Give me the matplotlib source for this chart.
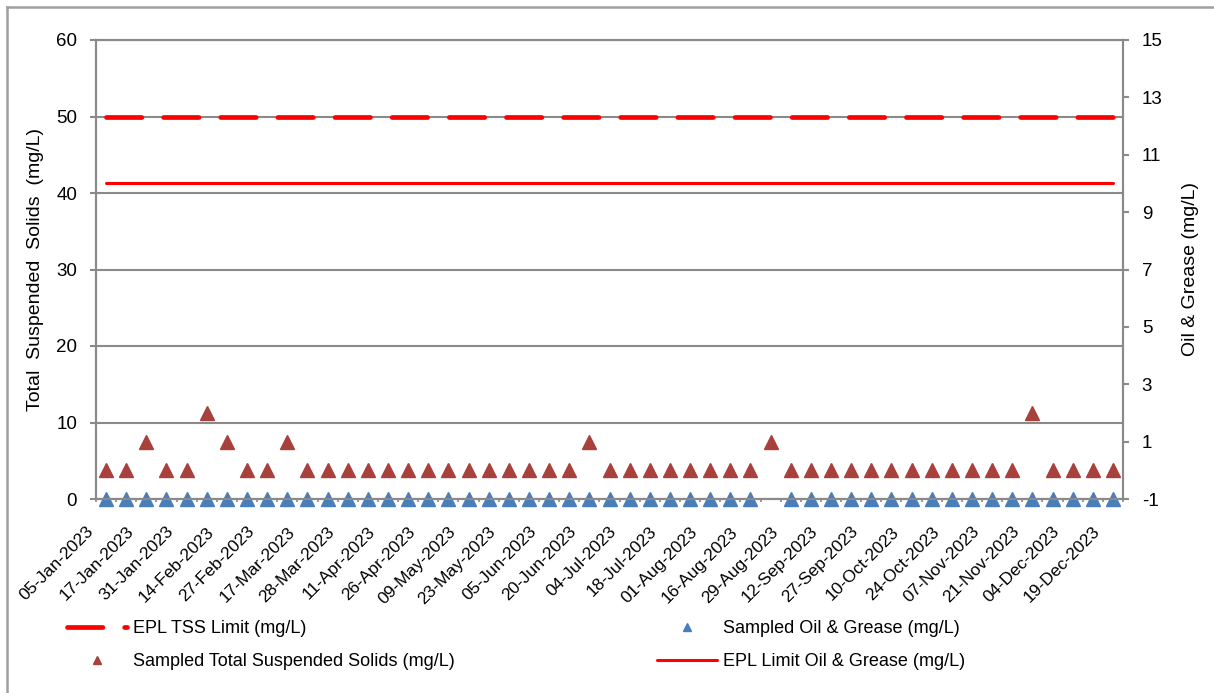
import numpy as np
import matplotlib
matplotlib.use("Agg")
import matplotlib.pyplot as plt
from matplotlib.lines import Line2D
from matplotlib.transforms import ScaledTranslation

plt.rcParams["font.family"] = ["Liberation Sans", "DejaVu Sans"]
plt.rcParams["axes.unicode_minus"] = False

# sampling rounds, labelled every second one on the axis
tick_labels = ["05-Jan-2023", "17-Jan-2023", "31-Jan-2023", "14-Feb-2023", "27-Feb-2023",
               "17-Mar-2023", "28-Mar-2023", "11-Apr-2023", "26-Apr-2023", "09-May-2023",
               "23-May-2023", "05-Jun-2023", "20-Jun-2023", "04-Jul-2023", "18-Jul-2023",
               "01-Aug-2023", "16-Aug-2023", "29-Aug-2023", "12-Sep-2023", "27-Sep-2023",
               "10-Oct-2023", "24-Oct-2023", "07-Nov-2023", "21-Nov-2023", "04-Dec-2023",
               "19-Dec-2023"]

tss_sampled = [0, 0, 1, 0, 0, 2, 1, 0, 0, 1,
               0, 0, 0, 0, 0, 0, 0, 0, 0, 0,
               0, 0, 0, 0, 1, 0, 0, 0, 0, 0,
               0, 0, 0, 1, 0, 0, 0, 0, 0, 0,
               0, 0, 0, 0, 0, 0, 2, 0, 0, 0,
               0]
og_sampled = [0] * 33 + [np.nan] + [0] * 17
tss_limit = 50
og_limit = 10

n = len(tss_sampled)
x = np.arange(n)

grey = "#8a8a8a"
red = "#ff0000"
brown = "#a8403c"
blue = "#4a7ebb"

fig = plt.figure(figsize=(12.14, 6.93), dpi=100)
ax = fig.add_axes([96 / 1214, 1 - 499 / 693, (1123 - 96) / 1214, (499 - 40) / 693])
ax2 = ax.twinx()

# primary axis: TSS limit and oil & grease samples
ax.set_ylim(0, 60)
ax.set_yticks(range(0, 61, 10))
ax.grid(axis="y", color=grey, linewidth=1.5)
ax.set_axisbelow(True)
ax.plot(x, [tss_limit] * n, color=red, linewidth=3.4, dashes=(7.5, 4.6),
        dash_capstyle="round", label="EPL TSS Limit (mg/L)", zorder=3)
ax.plot(x, og_sampled, linestyle="none", marker="^", markersize=9.5, color=blue,
        clip_on=False, label="Sampled Oil & Grease (mg/L)", zorder=5)

# secondary axis: TSS samples and oil & grease limit
ax2.set_ylim(-1, 15)
ax2.set_yticks(range(-1, 16, 2))
ax2.plot(x, tss_sampled, linestyle="none", marker="^", markersize=9.5, color=brown,
         label="Sampled Total Suspended Solids (mg/L)", zorder=4)
ax2.plot(x, [og_limit] * n, color=red, linewidth=2.2, solid_capstyle="round",
         label="EPL Limit Oil & Grease (mg/L)", zorder=3)

ax.set_xlim(-0.5, n - 0.5)
ax.set_xticks(x[::2])
ax.set_xticklabels(tick_labels, rotation=45, ha="right", va="top", fontsize=12.5)
ax.set_xticks(np.arange(-0.5, n, 1), minor=True)
ax.tick_params(axis="x", which="major", length=0, pad=18)
ax.tick_params(axis="x", which="minor", length=2.5, width=1.2, color=grey)
shift = ScaledTranslation(-10 / 100, 0, fig.dpi_scale_trans)
for lab in ax.get_xticklabels():
    lab.set_transform(lab.get_transform() + shift)

ax.tick_params(axis="y", length=4.5, width=1.5, color=grey, pad=9, labelsize=13.5)
ax2.tick_params(axis="y", length=4, width=1.5, color=grey, pad=9.5, labelsize=13.5)

for a in (ax, ax2):
    for s in a.spines.values():
        s.set_color(grey)
        s.set_linewidth(1.5)

ax.set_ylabel("Total  Suspended  Solids  (mg/L)", fontsize=14, labelpad=9)
ax2.set_ylabel("Oil & Grease (mg/L)", fontsize=14, labelpad=14)

# legend in two columns under the chart
h1, l1 = ax.get_legend_handles_labels()
h2, l2 = ax2.get_legend_handles_labels()
handles = {lab: h for h, lab in zip(h1 + h2, l1 + l2)}
col_left = ["EPL TSS Limit (mg/L)", "Sampled Total Suspended Solids (mg/L)"]
col_right = ["Sampled Oil & Grease (mg/L)", "EPL Limit Oil & Grease (mg/L)"]
for names, x0 in ((col_left, 67), (col_right, 657)):
    fig.legend([handles[k] for k in names], names, loc="upper left",
               bbox_to_anchor=(x0 / 1214, 1 - 620 / 693), frameon=False,
               fontsize=13, handlelength=3.3, handletextpad=0.35,
               labelspacing=0.9, borderpad=0, borderaxespad=0, markerscale=0.65)

# outer frame of the chart area
fig.add_artist(Line2D([7 / 1214, 7 / 1214], [0, 1 - 7 / 693], color="#a0a0a0", linewidth=1.8))
fig.add_artist(Line2D([7 / 1214, 1], [1 - 7 / 693, 1 - 7 / 693], color="#a0a0a0", linewidth=1.8))

fig.savefig("out.png", dpi=100)
